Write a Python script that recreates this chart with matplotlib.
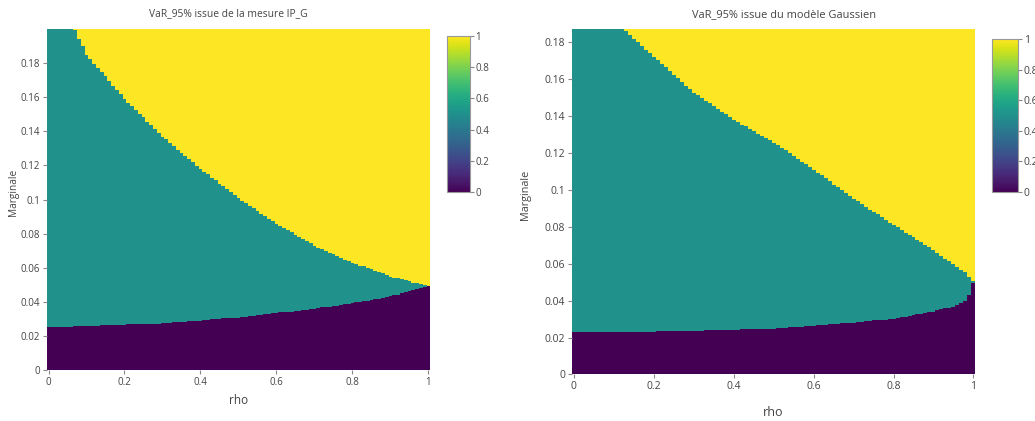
import matplotlib.pyplot as plt
import numpy as np
from matplotlib.ticker import FormatStrFormatter

plt.rcParams['font.family'] = ['Open Sans', 'DejaVu Sans']

GREY = '#444444'

# region borders read off the picture, sampled along rho
# below "low" -> 0, between "low" and "high" -> 0.5, above "high" -> 1
ipg_rho = [0.0, 0.1, 0.2, 0.3, 0.4, 0.5, 0.6, 0.7, 0.8, 0.9, 1.0]
ipg_low = [0.0251, 0.0257, 0.0265, 0.0276, 0.029, 0.031, 0.0334, 0.036,
           0.0392, 0.0432, 0.0495]
ipg_high = [0.232, 0.185, 0.159, 0.137, 0.118, 0.101, 0.086, 0.073, 0.063,
            0.055, 0.049]

gauss_rho = [0.0, 0.1, 0.2, 0.3, 0.4, 0.5, 0.6, 0.7, 0.8, 0.9, 0.95, 0.98,
             0.99, 1.0]
gauss_low = [0.0231, 0.0233, 0.0235, 0.0239, 0.0244, 0.025, 0.0264, 0.028,
             0.0304, 0.034, 0.037, 0.040, 0.043, 0.050]
gauss_high = [0.212, 0.192, 0.172, 0.1525, 0.138, 0.1255, 0.111, 0.095,
              0.081, 0.0675, 0.060, 0.0555, 0.053, 0.051]

rho_grid = np.round(np.arange(0, 1.0001, 0.01), 2)
marg_ipg = np.round(np.arange(0, 0.2001, 0.0005), 4)
marg_gauss = np.round(np.arange(0, 0.1871, 0.0005), 4)

titles = ["VaR_95% issue de la mesure IP_G",
          "VaR_95% issue du modèle Gaussien"]


def build_grid(knots, low, high, marg):
    lo = np.interp(rho_grid, knots, low)
    hi = np.interp(rho_grid, knots, high)
    m = marg[:, None]
    return np.where(m < lo, 0.0, np.where(m < hi, 0.5, 1.0))


def style_axis(ax, size):
    for s in ax.spines.values():
        s.set_visible(False)
    ax.tick_params(direction='out', length=3, width=0.8, color='#888888',
                   labelcolor=GREY, labelsize=size, pad=2)


def draw_panel(fig, ax_rect, cb_rect, marg, z, ytop, title, title_x, title_y,
               fs, rho_y, marg_x):
    ax = fig.add_axes(ax_rect)
    mesh = ax.pcolormesh(rho_grid, marg, z, cmap='viridis', vmin=0, vmax=1,
                         shading='nearest', rasterized=True)
    ax.set_xlim(-0.004, 1.004)
    ax.set_ylim(0, ytop)
    ax.set_xticks(np.arange(0, 1.01, 0.2))
    ax.set_yticks(np.arange(0, 0.181, 0.02))
    ax.xaxis.set_major_formatter(FormatStrFormatter('%g'))
    ax.yaxis.set_major_formatter(FormatStrFormatter('%g'))
    style_axis(ax, fs)

    cax = fig.add_axes(cb_rect)
    cb = fig.colorbar(mesh, cax=cax, ticks=np.arange(0, 1.01, 0.2))
    cb.ax.yaxis.set_major_formatter(FormatStrFormatter('%g'))
    cb.outline.set_edgecolor('#999999')
    cb.outline.set_linewidth(0.8)
    cax.tick_params(direction='out', length=3, width=0.8, color='#888888',
                    labelcolor=GREY, labelsize=fs, pad=1)

    fig.text(title_x, title_y, title, ha='center', va='center',
             fontsize=fs + 0.4, color=GREY)
    fig.text((ax_rect[0] + ax_rect[2] / 2), rho_y, 'rho', ha='center',
             va='center', fontsize=fs + 1.5, color=GREY)
    fig.text(marg_x, ax_rect[1] + ax_rect[3] * 0.52, 'Marginale',
             rotation=90, ha='center', va='center', fontsize=fs + 0.3,
             color=GREY)


fig = plt.figure(figsize=(10.35, 4.21), dpi=100)

z_ipg = build_grid(ipg_rho, ipg_low, ipg_high, marg_ipg)
z_gauss = build_grid(gauss_rho, gauss_low, gauss_high, marg_gauss)

draw_panel(fig, [0.0454, 0.1211, 0.370, 0.810],
           [0.4319, 0.544, 0.0222, 0.3705], marg_ipg, z_ipg, 0.2,
           titles[0], 228 / 1035, 1 - 14 / 421, 7.0,
           1 - 401 / 421, 13 / 1035)
draw_panel(fig, [0.5527, 0.1105, 0.3894, 0.8207],
           [0.9585, 0.544, 0.0251, 0.363], marg_gauss, z_gauss, 0.187,
           titles[1], 784 / 1035, 1 - 15 / 421, 7.5,
           1 - 413 / 421, 525 / 1035)

fig.savefig('out.png', dpi=100, facecolor='white')
